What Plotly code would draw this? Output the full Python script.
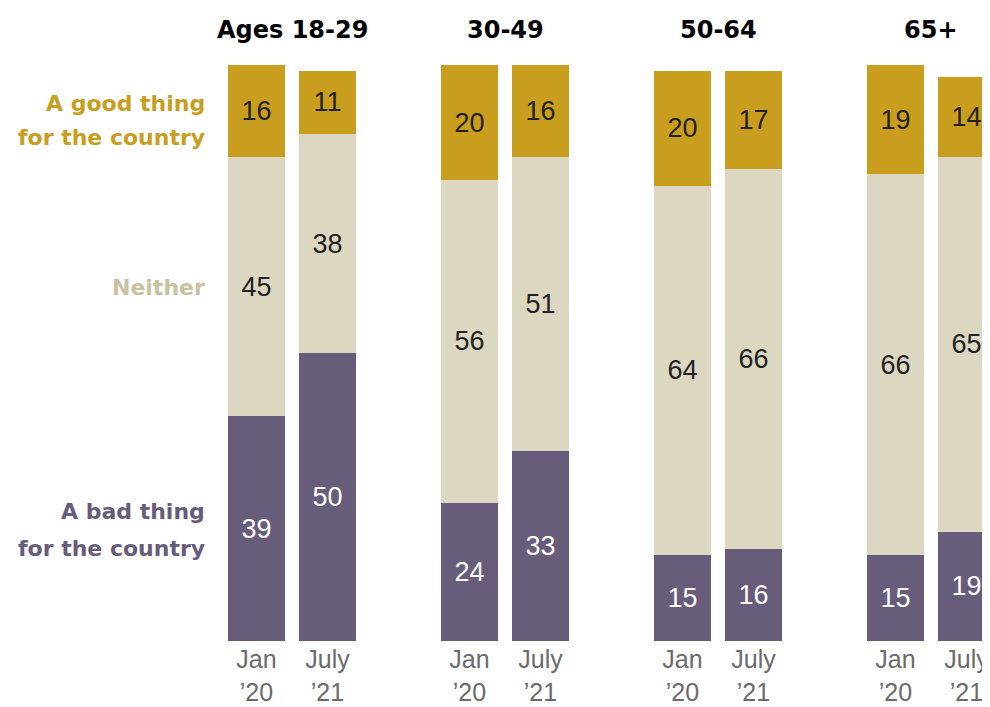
import plotly.graph_objects as go

groups = ["Ages 18-29", "30-49", "50-64", "65+"]
periods = ["Jan<br>’20", "July<br>’21"]

good = [[16, 11], [20, 16], [20, 17], [19, 14]]
neither = [[45, 38], [56, 51], [64, 66], [66, 65]]
bad = [[39, 50], [24, 33], [15, 16], [15, 19]]

series_names = ["A bad thing for the country", "Neither", "A good thing for the country"]
colors = {"bad": "#685C7B", "neither": "#DCD7C0", "good": "#C99E1E"}

# Build category slots: two bars per group plus an empty spacer between groups
cats, tick_cats, tick_text = [], [], []
vals = {"bad": [], "neither": [], "good": []}
group_centers = []
for gi, g in enumerate(groups):
    idx0 = len(cats)
    for pi, p in enumerate(periods):
        c = f"{g}|{pi}"
        cats.append(c)
        tick_cats.append(c)
        tick_text.append(p)
        vals["bad"].append(bad[gi][pi])
        vals["neither"].append(neither[gi][pi])
        vals["good"].append(good[gi][pi])
    group_centers.append((idx0 + idx0 + 1) / 2)
    if gi < len(groups) - 1:
        cats.append(f"sp{gi}")
        for k in vals:
            vals[k].append(None)

fig = go.Figure()
num_font = "Liberation Sans, Arial, sans-serif"
bold_font = "DejaVu Sans, Verdana, sans-serif"
for key, name, tcol in [("bad", series_names[0], "white"),
                        ("neither", series_names[1], "#222222"),
                        ("good", series_names[2], "#222222")]:
    fig.add_trace(go.Bar(
        x=cats, y=vals[key], name=name,
        marker=dict(color=colors[key], line=dict(width=0)),
        text=[("" if v is None else str(v)) for v in vals[key]],
        textposition="inside", insidetextanchor="middle", textangle=0,
        constraintext="none",
        textfont=dict(size=27, color=tcol, family=num_font),
        hoverinfo="skip",
    ))

fig.update_layout(
    barmode="stack", bargap=0.197,
    width=994, height=699,
    margin=dict(l=213, r=0, t=57, b=66),
    paper_bgcolor="white", plot_bgcolor="white",
    showlegend=False,
    font=dict(family=num_font),
)
fig.update_xaxes(
    type="category", categoryorder="array", categoryarray=cats,
    range=[-0.5, len(cats) - 0.5],
    tickmode="array", tickvals=tick_cats, ticktext=tick_text,
    tickfont=dict(size=25, color="#6b6b6b", family=num_font),
    showgrid=False, zeroline=False, showline=False, ticks="",
    ticklabelstandoff=1,
)
fig.update_yaxes(range=[0, 100], visible=False, showgrid=False, zeroline=False)

for g, cx in zip(groups, group_centers):
    fig.add_annotation(x=cx, y=1.0608, xref="x", yref="paper", text=f"<b>{g}</b>",
                       showarrow=False, xanchor="center", yanchor="middle",
                       font=dict(size=24, color="#000000", family=bold_font))

label_lines = [
    ("A good thing", 93.4, colors["good"]),
    ("for the country", 87.5, colors["good"]),
    ("Neither", 61.3, "#C8C1A2"),
    ("A bad thing", 22.4, colors["bad"]),
    ("for the country", 16.1, colors["bad"]),
]
for txt, yv, col in label_lines:
    fig.add_annotation(x=0, xref="paper", y=yv, yref="y", text=f"<b>{txt}</b>",
                       showarrow=False, xanchor="right", yanchor="middle", align="right",
                       xshift=-14,
                       font=dict(size=22, color=col, family=bold_font))

fig.write_html("out.html")
